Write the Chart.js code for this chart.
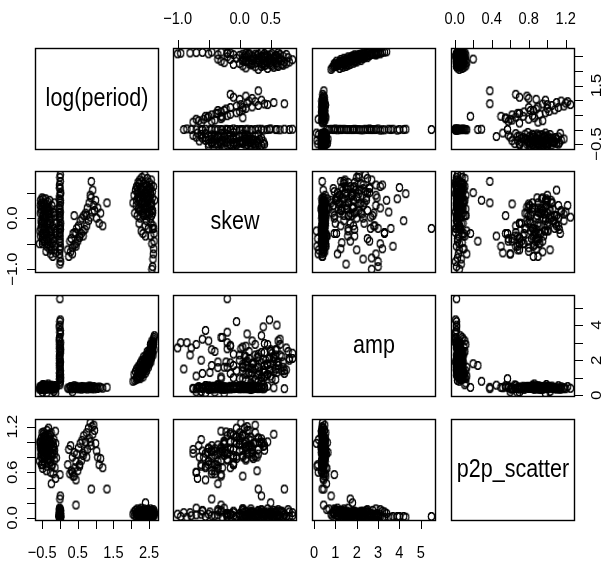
<!DOCTYPE html>
<html>
<head>
<meta charset="utf-8">
<script src="https://cdn.jsdelivr.net/npm/chart.js@4.4.1/dist/chart.umd.min.js"></script>
<style>
  body { margin: 0; background: #fff; }
  #wrap { position: relative; width: 603px; height: 564px; }
  #wrap canvas { position: absolute; left: 0; top: 0; }
</style>
</head>
<body>
<div id="wrap"></div>
<script>
const varNames = ["log(period)", "skew", "amp", "p2p_scatter"]

// one entry per star; groups: short period, mid period, period 1 day, long period, then more short and long
const logPeriod = [
  -0.55,-0.53,-0.52,-0.50,-0.49,-0.48,-0.47,-0.46,-0.45,-0.44,
  -0.57,-0.54,-0.51,-0.50,-0.48,-0.46,-0.44,-0.43,-0.42,-0.41,
  -0.40,-0.39,-0.38,-0.37,-0.36,-0.35,-0.34,-0.33,-0.32,-0.31,
  -0.30,-0.29,-0.28,-0.27,-0.26,-0.25,-0.24,-0.23,-0.22,-0.21,
  -0.20,-0.19,-0.18,-0.17,-0.16,-0.15,-0.14,-0.13,-0.12,-0.10,
  -0.56,-0.53,-0.49,-0.47,-0.43,-0.38,-0.35,-0.29,-0.24,-0.18,
  -0.52,-0.50,-0.45,-0.42,-0.39,-0.33,-0.27,-0.22,-0.16,-0.12,
  0.22,0.25,0.28,0.30,0.32,0.35,0.37,0.40,0.42,0.45,
  0.47,0.50,0.52,0.55,0.57,0.60,0.62,0.65,0.67,0.70,
  0.72,0.75,0.77,0.80,0.82,0.85,0.87,0.90,0.92,0.95,
  0.97,1.00,1.03,1.06,1.10,1.14,1.20,0.35,0.45,0.55,
  0.65,0.75,0.85,0.88,1.32,0.45,0.40,
  0.00,0.01,-0.01,0.00,0.02,0.00,-0.02,0.01,0.00,0.00,
  0.01,0.00,-0.01,0.00,0.02,0.00,0.01,-0.01,0.00,0.00,
  0.00,0.01,0.00,-0.01,0.00,0.02,0.00,0.00,0.01,-0.01,
  0.00,0.00,0.01,0.00,-0.02,0.00,0.01,0.00,0.00,0.00,
  2.05,2.08,2.10,2.12,2.14,2.15,2.17,2.18,2.19,2.20,
  2.21,2.22,2.23,2.24,2.25,2.26,2.27,2.28,2.29,2.30,
  2.31,2.32,2.33,2.34,2.35,2.36,2.37,2.38,2.39,2.40,
  2.41,2.42,2.43,2.44,2.45,2.46,2.47,2.48,2.49,2.50,
  2.51,2.52,2.53,2.54,2.55,2.56,2.57,2.58,2.59,2.60,
  2.58,2.60,2.61,2.62,2.63,2.64,2.65,2.62,2.60,2.64,
  2.15,2.22,2.28,2.33,2.38,2.43,2.47,2.52,2.55,2.57,
  2.18,2.26,2.35,2.44,2.49,2.53,2.56,2.59,2.40,2.30,
  -0.54,-0.51,-0.48,-0.46,-0.44,-0.41,-0.38,-0.36,-0.33,-0.31,
  -0.55,-0.50,-0.47,-0.43,-0.40,-0.37,-0.34,-0.30,-0.27,-0.25,
  -0.53,-0.49,-0.45,-0.42,-0.39,-0.35,-0.32,-0.28,-0.23,-0.19,
  2.20,2.24,2.27,2.31,2.34,2.37,2.41,2.44,2.47,2.50,
  2.22,2.28,2.33,2.38,2.42,2.46,2.51,2.54,2.57,2.61,
  2.17,2.25,2.32,2.36,2.45,2.48,2.53,2.56,2.59,2.63
]
const skew = [
  0.10,-0.20,0.30,-0.05,-0.40,0.22,0.05,-0.30,0.15,-0.10,
  -0.50,0.35,-0.15,0.25,-0.35,0.00,0.28,-0.45,0.18,-0.25,
  0.05,-0.30,0.20,-0.55,0.12,-0.10,0.32,-0.20,0.08,-0.40,
  -0.60,-0.05,0.15,-0.35,-0.70,0.00,-0.25,0.25,-0.50,-0.15,
  -0.75,-0.40,0.10,-0.62,-0.20,0.05,-0.55,-0.30,-0.68,-0.10,
  -0.25,0.18,-0.45,0.38,-0.05,0.28,-0.50,0.35,-0.35,-0.45,
  -0.10,0.40,-0.22,0.10,-0.65,0.20,-0.10,-0.40,0.30,-0.25,
  -0.62,-0.75,-0.45,-0.66,-0.40,-0.58,-0.30,-0.52,-0.28,-0.50,
  -0.20,-0.45,-0.15,-0.38,-0.05,-0.30,0.00,-0.25,0.05,-0.22,
  0.10,-0.15,0.20,-0.05,0.30,0.02,0.40,0.12,0.55,0.25,
  0.15,0.35,0.00,0.20,-0.10,0.10,-0.15,-0.70,-0.55,-0.35,
  -0.35,0.05,0.45,0.72,0.30,-0.30,0.05,
  0.80,0.72,0.65,0.58,0.50,0.44,0.38,0.30,0.25,0.18,
  0.12,0.05,0.00,-0.05,-0.10,-0.15,-0.22,-0.28,-0.35,-0.40,
  -0.48,-0.55,-0.62,-0.70,-0.78,-0.85,-0.90,0.60,0.35,0.10,
  -0.20,-0.45,0.85,-0.30,0.20,-0.60,0.48,-0.15,0.02,-0.20,
  0.30,0.45,0.10,0.55,0.25,0.62,0.05,0.40,0.70,0.18,
  0.50,-0.10,0.35,0.75,0.00,0.60,0.20,-0.25,0.45,0.80,
  0.15,0.55,-0.30,0.40,0.68,0.05,0.30,0.85,-0.15,0.50,
  0.25,0.65,-0.05,0.42,0.78,0.10,0.55,-0.20,0.35,0.70,
  0.20,0.60,0.00,0.45,-0.35,0.75,0.30,-0.50,0.52,0.10,
  -1.00,-0.95,-0.80,-0.70,-0.60,-0.45,0.35,0.62,0.15,-0.30,
  0.35,0.20,0.50,0.10,0.30,0.48,0.22,0.40,-0.10,0.05,
  0.60,0.40,0.20,0.05,0.58,0.28,0.65,-0.20,-0.35,0.72,
  -0.35,0.12,-0.08,0.30,-0.45,0.02,-0.28,0.20,-0.15,0.10,
  0.25,-0.30,0.05,-0.20,0.38,-0.40,0.15,-0.10,-0.55,0.08,
  -0.05,-0.50,0.18,-0.32,0.00,0.22,-0.45,-0.25,-0.62,0.12,
  0.42,0.15,0.58,0.32,0.05,0.48,0.22,0.62,0.38,0.12,
  0.68,0.28,0.45,0.18,0.55,0.35,0.08,0.50,0.25,-0.15,
  0.52,0.38,0.10,0.62,0.30,0.45,0.58,0.15,0.40,-0.20
]
const amp = [
  0.42,0.38,0.45,0.50,0.18,0.48,0.40,0.55,0.44,0.39,
  0.35,0.47,0.52,0.41,0.60,0.37,0.46,0.43,0.50,0.34,
  0.44,0.40,0.58,0.14,0.49,0.53,0.42,0.47,0.38,0.45,
  0.39,0.46,0.51,0.43,0.37,0.55,0.41,0.48,0.35,0.44,
  0.40,0.52,0.45,0.22,0.47,0.42,0.56,0.36,0.43,0.49,
  0.50,0.33,0.43,0.62,0.39,0.46,0.54,0.40,0.58,0.37,
  0.45,0.41,0.36,0.48,0.44,0.65,0.38,0.50,0.42,0.12,
  0.42,0.38,0.45,0.50,0.36,0.41,0.47,0.44,0.39,0.52,
  0.43,0.37,0.48,0.40,0.46,0.35,0.51,0.42,0.38,0.45,
  0.49,0.41,0.36,0.44,0.53,0.40,0.47,0.38,0.43,0.50,
  0.37,0.46,0.42,0.39,0.48,0.44,0.41,0.20,0.45,0.40,
  0.47,0.43,0.52,0.38,0.46,0.45,0.55,
  2.10,1.40,3.20,0.90,2.60,1.80,3.90,1.20,2.90,0.70,
  3.50,1.60,2.30,4.20,1.00,2.80,1.90,3.30,0.60,2.50,
  1.30,3.70,2.00,1.10,2.70,3.00,1.50,4.00,0.80,2.20,
  3.60,1.70,2.40,0.95,3.10,1.25,4.30,1.85,2.65,5.50,
  0.80,1.20,0.85,1.35,0.90,1.50,0.95,1.05,1.60,1.15,
  1.10,1.70,1.00,1.45,0.95,1.85,1.30,1.60,1.20,2.00,
  1.30,1.95,1.05,1.70,2.20,1.40,1.60,2.10,1.25,1.80,
  1.50,2.30,1.40,2.00,2.50,1.70,2.20,1.60,2.45,1.90,
  1.80,2.60,2.00,2.90,1.90,2.70,2.20,3.10,2.40,2.80,
  2.70,3.00,2.30,2.90,3.20,2.60,3.40,3.10,2.50,3.30,
  1.05,1.55,1.45,1.90,1.62,2.10,1.85,2.45,2.35,2.75,
  1.30,1.32,1.80,1.78,2.30,2.15,2.90,2.65,1.58,1.25,
  0.44,0.40,0.47,0.38,0.52,0.43,0.41,0.49,0.36,0.46,
  0.39,0.45,0.50,0.42,0.37,0.48,0.44,0.40,0.53,0.41,
  0.46,0.35,0.43,0.51,0.39,0.47,0.42,0.38,0.45,0.50,
  1.10,1.25,1.50,1.35,1.62,1.45,1.80,1.70,2.05,1.95,
  1.40,1.15,1.75,1.55,2.10,1.85,2.25,2.50,2.30,2.85,
  0.95,1.40,1.20,1.90,2.35,1.75,2.60,2.10,2.95,3.00
]
const p2pScatter = [
  0.92,0.85,1.05,0.78,0.70,0.98,1.10,0.88,0.95,0.82,
  0.75,1.00,0.90,1.12,0.65,0.96,0.80,0.72,1.02,0.86,
  1.08,0.93,0.84,0.68,1.15,0.90,0.99,0.77,1.18,0.83,
  0.88,1.06,0.95,0.74,0.60,1.12,0.97,0.81,0.70,1.00,
  0.85,0.58,0.93,1.03,0.76,0.89,0.66,1.14,0.52,0.79,
  1.00,0.94,0.87,0.99,1.07,0.62,0.91,1.04,0.45,0.95,
  0.70,0.89,1.13,0.94,0.80,0.86,1.09,0.91,0.84,0.98,
  0.70,0.90,0.58,0.95,0.62,0.80,0.55,0.86,0.66,0.74,
  0.84,0.62,0.92,0.70,0.98,0.75,1.02,0.82,1.08,0.88,
  1.00,1.12,0.90,1.18,1.05,1.25,0.95,1.20,1.10,1.22,
  1.15,0.98,0.88,0.80,0.70,0.78,0.66,0.60,0.50,0.68,
  0.85,0.80,1.00,0.38,0.38,0.17,0.55,
  0.02,0.05,0.01,0.08,0.03,0.06,0.02,0.10,0.04,0.12,
  0.01,0.07,0.03,0.02,0.09,0.04,0.06,0.01,0.11,0.03,
  0.08,0.02,0.05,0.13,0.03,0.01,0.07,0.02,0.29,0.04,
  0.01,0.25,0.03,0.57,0.02,0.10,0.01,0.05,0.03,0.02,
  0.05,0.08,0.03,0.10,0.06,0.02,0.12,0.04,0.07,0.09,
  0.03,0.07,0.11,0.02,0.05,0.09,0.04,0.13,0.06,0.08,
  0.06,0.02,0.10,0.04,0.08,0.12,0.03,0.07,0.05,0.20,
  0.04,0.09,0.02,0.06,0.11,0.03,0.07,0.05,0.10,0.01,
  0.08,0.03,0.06,0.12,0.04,0.02,0.09,0.05,0.07,0.03,
  0.05,0.02,0.07,0.04,0.09,0.03,0.06,0.11,0.04,0.08,
  0.07,0.03,0.05,0.09,0.02,0.06,0.04,0.08,0.03,0.10,
  0.04,0.06,0.08,0.03,0.07,0.05,0.02,0.06,0.09,0.04,
  0.96,0.84,1.01,0.90,0.79,1.05,0.87,0.93,1.10,0.76,
  0.99,0.91,0.82,1.08,0.94,0.88,1.03,0.72,0.85,0.97,
  0.81,0.92,1.06,0.86,0.98,0.78,0.89,1.01,0.68,0.90,
  0.03,0.06,0.04,0.08,0.02,0.05,0.07,0.03,0.06,0.04,
  0.09,0.02,0.05,0.07,0.03,0.06,0.04,0.08,0.02,0.05,
  0.06,0.03,0.08,0.04,0.05,0.02,0.07,0.03,0.06,0.04
]

// tick positions for each variable, and which of them carry a label on each side
const logPeriodTicks = [-0.5, 0, 0.5, 1, 1.5, 2, 2.5]
const skewTicks = [-1, -0.5, 0, 0.5]
const ampTicks = [0, 1, 2, 3, 4, 5]
const p2pTicks = [0, 0.2, 0.4, 0.6, 0.8, 1, 1.2]

const logPeriodBottomLabels = [-0.5, 0.5, 1.5, 2.5]
const logPeriodRightLabels = [-0.5, 1.5]
const skewTopLabels = [-1, 0, 0.5]
const skewLeftLabels = [-1, 0]
const ampBottomLabels = [0, 1, 2, 3, 4, 5]
const ampRightLabels = [0, 2, 4]
const p2pTopLabels = [0, 0.4, 0.8, 1.2]
const p2pLeftLabels = [0, 0.6, 1.2]

const columns = [logPeriod, skew, amp, p2pScatter]
const ticks = [logPeriodTicks, skewTicks, ampTicks, p2pTicks]
const decimals = [1, 1, 0, 1]
const sideLabels = {
  top: [null, skewTopLabels, null, p2pTopLabels],
  bottom: [logPeriodBottomLabels, null, ampBottomLabels, null],
  left: [null, skewLeftLabels, null, p2pLeftLabels],
  right: [logPeriodRightLabels, null, ampRightLabels, null],
}

// page layout
const W = 603, H = 564
const colLeft = [35, 173, 312, 451]
const rowTop = [48, 171, 295, 419]
const panelW = 124, panelH = 102
const SQUASH = 0.86
const FONT = '"Liberation Sans", Arial, sans-serif'
const TICK_FONT = 17

function limits(v) {
  const lo = Math.min(...v), hi = Math.max(...v)
  const pad = 0.04 * (hi - lo)
  return [lo - pad, hi + pad]
}
const lims = columns.map(limits)

function fmt(v, d) {
  return v.toFixed(d).replace("-", "\u2212")
}

function label(ctx, text, x, y, size, rotate) {
  ctx.save()
  ctx.translate(x, y)
  ctx.scale(SQUASH, 1)
  if (rotate) ctx.rotate(-Math.PI / 2)
  ctx.font = size + "px " + FONT
  ctx.fillStyle = "#000"
  ctx.textAlign = "center"
  ctx.textBaseline = "middle"
  ctx.fillText(text, 0, 0)
  ctx.restore()
}

// open circle, a little taller than wide like the original, with the edge darkened
const ring = (() => {
  const c = document.createElement("canvas")
  c.width = 9
  c.height = 11
  const g = c.getContext("2d")
  g.strokeStyle = "#000"
  g.lineWidth = 1.2
  g.beginPath()
  g.ellipse(4.5, 5.5, 3.1, 3.9, 0, 0, 2 * Math.PI)
  g.stroke()
  const img = g.getImageData(0, 0, c.width, c.height)
  for (let k = 3; k < img.data.length; k += 4) img.data[k] = Math.min(255, img.data[k] * 1.7)
  g.putImageData(img, 0, 0)
  return c
})()

const TICK = 8
const pairsFrame = {
  id: "pairsFrame",
  afterDraw(chart, args, o) {
    const { ctx, chartArea: a } = chart
    const xs = chart.scales.x, ys = chart.scales.y
    const i = o.row, j = o.col
    ctx.save()
    ctx.strokeStyle = "#000"
    ctx.lineWidth = 1.4
    ctx.strokeRect(a.left + 0.5, a.top + 0.5, a.right - a.left - 1, a.bottom - a.top - 1)
    ctx.lineWidth = 1
    if (i === j) {
      label(ctx, varNames[i], (a.left + a.right) / 2, (a.top + a.bottom) / 2, 25, false)
    }
    const hAxis = (side) => {
      const y0 = side === "top" ? a.top : a.bottom
      const dir = side === "top" ? -1 : 1
      ticks[j].forEach(v => {
        const x = Math.round(xs.getPixelForValue(v)) + 0.5
        ctx.beginPath(); ctx.moveTo(x, y0); ctx.lineTo(x, y0 + dir * TICK); ctx.stroke()
      })
      sideLabels[side][j].forEach(v => {
        label(ctx, fmt(v, decimals[j]), xs.getPixelForValue(v), y0 + dir * (side === "top" ? 29 : 32), TICK_FONT, false)
      })
    }
    const vAxis = (side) => {
      const x0 = side === "left" ? a.left : a.right
      const dir = side === "left" ? -1 : 1
      ticks[i].forEach(v => {
        const y = Math.round(ys.getPixelForValue(v)) + 0.5
        ctx.beginPath(); ctx.moveTo(x0, y); ctx.lineTo(x0 + dir * TICK, y); ctx.stroke()
      })
      sideLabels[side][i].forEach(v => {
        label(ctx, fmt(v, decimals[i]), x0 + dir * 22, ys.getPixelForValue(v), TICK_FONT, true)
      })
    }
    if (i === 0 && j % 2 === 1) hAxis("top")
    if (i === 3 && j % 2 === 0) hAxis("bottom")
    if (j === 0 && i % 2 === 1) vAxis("left")
    if (j === 3 && i % 2 === 0) vAxis("right")
    ctx.restore()
  }
}

const wrap = document.getElementById("wrap")
for (let i = 0; i < 4; i++) {
  for (let j = 0; j < 4; j++) {
    const cv = document.createElement("canvas")
    cv.width = W
    cv.height = H
    wrap.appendChild(cv)
    const points = i === j ? [] : columns[j].map((xv, k) => ({ x: xv, y: columns[i][k] }))
    new Chart(cv, {
      type: "scatter",
      data: {
        datasets: [{ data: points, pointStyle: ring, pointRadius: 4, clip: 0 }]
      },
      options: {
        responsive: false,
        animation: false,
        devicePixelRatio: 1,
        events: [],
        layout: {
          padding: {
            left: colLeft[j],
            top: rowTop[i],
            right: W - colLeft[j] - panelW,
            bottom: H - rowTop[i] - panelH,
          }
        },
        scales: {
          x: { type: "linear", display: false, min: lims[j][0], max: lims[j][1] },
          y: { type: "linear", display: false, min: lims[i][0], max: lims[i][1] },
        },
        plugins: {
          legend: { display: false },
          tooltip: { enabled: false },
          pairsFrame: { row: i, col: j },
        }
      },
      plugins: [pairsFrame]
    })
  }
}
</script>
</body>
</html>
